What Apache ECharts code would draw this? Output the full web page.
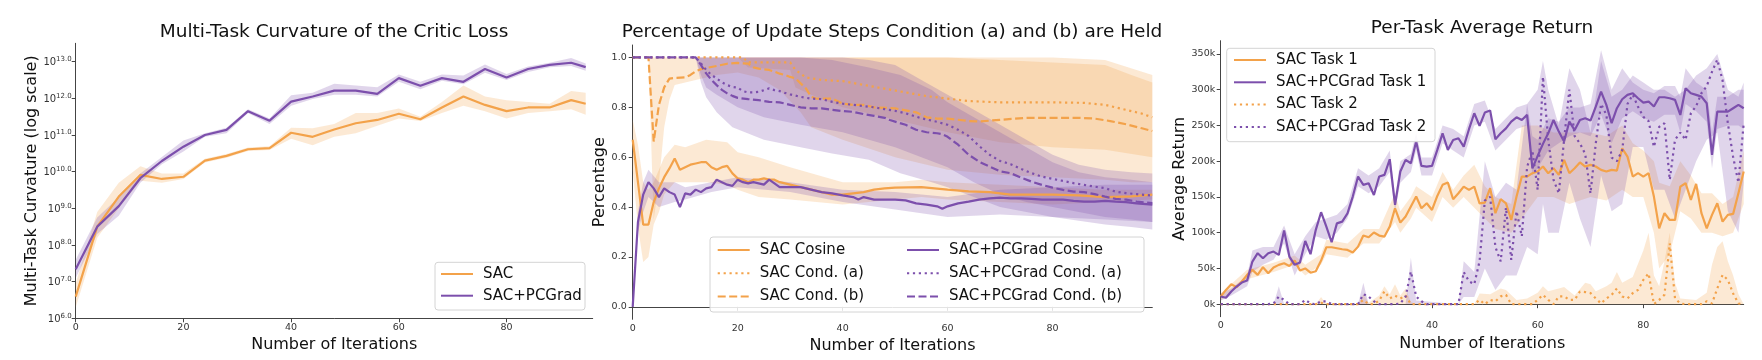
<!DOCTYPE html>
<html><head><meta charset="utf-8">
<script src="https://cdn.jsdelivr.net/npm/echarts@6/dist/echarts.min.js"></script>
<style>html,body{margin:0;padding:0;background:#fff}#c{width:1762px;height:360px}</style>
</head><body><div id="c"></div>
<script>
// ---------------- Chart 1: Multi-Task Curvature (values are log10 exponents)
const curvIters = [0,4,8,12,16,20,24,28,32,36,40,44,48,52,56,60,64,68,72,76,80,84,88,92,94.7];
const curvSAC   = [6.59,8.5,9.32,9.91,9.8,9.86,10.3,10.43,10.61,10.64,11.06,10.95,11.15,11.32,11.41,11.58,11.43,11.75,12.05,11.82,11.65,11.75,11.75,11.95,11.85];
const curvSACLo = [6.3,8.2,9.0,9.75,9.7,9.8,10.25,10.38,10.56,10.59,10.9,10.72,10.95,11.05,11.25,11.45,11.38,11.6,11.8,11.65,11.45,11.6,11.65,11.7,11.55];
const curvSACHi = [6.95,8.9,9.7,10.15,9.95,9.95,10.35,10.48,10.66,10.69,11.2,11.18,11.3,11.6,11.6,11.72,11.5,11.9,12.35,12.05,11.95,11.9,11.85,12.2,12.15];
const curvPC    = [7.34,8.5,9.06,9.82,10.29,10.68,11.0,11.14,11.65,11.39,11.91,12.05,12.21,12.21,12.12,12.55,12.34,12.55,12.45,12.8,12.57,12.8,12.91,12.97,12.85];
const curvPCLo  = [7.1,8.3,8.8,9.7,10.2,10.55,10.95,11.05,11.6,11.3,11.8,11.98,12.1,12.1,12.05,12.45,12.25,12.48,12.38,12.7,12.5,12.72,12.85,12.88,12.75];
const curvPCHi  = [7.6,8.75,9.3,9.95,10.4,10.85,11.05,11.2,11.7,11.45,12.08,12.15,12.4,12.35,12.3,12.65,12.45,12.65,12.62,12.92,12.66,12.87,12.97,13.1,12.95];
const curvTickExps = [6,7,8,9,10,11,12,13];
const iterTicks = [0,20,40,60,80];

// ---------------- Chart 2: Percentage of update steps
const sacCosX = [0,1,2,3,4,5,6,7,8,9,10,11,12,13,14,15,16,17,18,19,20,21,22,23,24,25,26,27,28,30,32,34,36,38,40,42,44,46,48,50,55,60,64,68,72,76,80,85,90,95,99];
const sacCosY = [0.67,0.5,0.33,0.33,0.42,0.475,0.52,0.555,0.595,0.55,0.56,0.57,0.575,0.58,0.58,0.56,0.55,0.56,0.565,0.535,0.515,0.51,0.5,0.51,0.51,0.515,0.51,0.51,0.5,0.49,0.48,0.47,0.46,0.45,0.45,0.455,0.46,0.47,0.475,0.478,0.48,0.47,0.463,0.46,0.45,0.45,0.45,0.447,0.44,0.443,0.45];
const sacCosBX = [0,1,2,3,4,5,6,8,10,14,18,20,24,30,40,50,55,60,70,80,90,99];
const sacCosLo = [0.55,0.32,0.18,0.2,0.33,0.38,0.45,0.5,0.5,0.5,0.49,0.47,0.44,0.43,0.41,0.43,0.44,0.43,0.42,0.41,0.42,0.43];
const sacCosHi = [0.75,0.65,0.5,0.47,0.5,0.55,0.6,0.65,0.64,0.67,0.66,0.62,0.6,0.56,0.5,0.5,0.51,0.5,0.49,0.48,0.47,0.47];

const pcCosX = [0,1,2,3,4,5,6,7,8,9,10,11,12,13,14,15,16,17,18,19,20,21,22,23,24,25,26,27,28,30,32,34,36,38,40,42,43,44,46,48,50,52,54,56,58,59,60,62,64,66,68,70,72,74,76,78,80,82,84,86,88,90,92,94,96,99];
const pcCosY = [0.0,0.34,0.45,0.5,0.475,0.44,0.475,0.46,0.45,0.4,0.455,0.45,0.47,0.46,0.475,0.48,0.51,0.5,0.49,0.485,0.51,0.5,0.495,0.5,0.495,0.49,0.51,0.495,0.48,0.48,0.48,0.47,0.46,0.455,0.447,0.44,0.43,0.44,0.43,0.43,0.43,0.427,0.415,0.41,0.403,0.393,0.403,0.415,0.422,0.43,0.435,0.438,0.435,0.435,0.433,0.43,0.43,0.43,0.425,0.422,0.422,0.425,0.422,0.42,0.415,0.41];
const pcCosBX = [0,1,2,3,5,8,10,15,20,30,40,50,60,70,80,90,99];
const pcCosLo = [0,0.3,0.38,0.44,0.4,0.42,0.43,0.46,0.48,0.46,0.42,0.39,0.36,0.37,0.36,0.35,0.34];
const pcCosHi = [0,0.38,0.5,0.55,0.5,0.5,0.48,0.5,0.52,0.5,0.47,0.46,0.44,0.47,0.48,0.49,0.49];

const sacAX = [0,21,22,30,31,33,36,40,44,48,52,56,60,64,70,80,86,90,94,97,99];
const sacAY = [1,1,0.98,0.98,0.95,0.92,0.91,0.905,0.89,0.875,0.86,0.845,0.835,0.825,0.82,0.82,0.818,0.81,0.79,0.775,0.76];
const sacABX = [0,20,22,30,31,34,40,50,60,70,80,90,99];
const sacALo = [1,1,0.96,0.95,0.88,0.85,0.8,0.75,0.7,0.66,0.64,0.63,0.6];
const sacAHi = [1,1,1,1,1,1,1,1,1,1,1,0.99,0.93];

const sacBX = [0,3,4,5,6,7,8,10,11,12,13,14,16,18,20,22,23,24,26,27,28,29,30,31,32,33,34,35,38,40,42,44,46,50,54,56,58,60,64,66,70,75,80,85,88,91,94,97,99];
const sacBY = [1,1,0.663,0.81,0.88,0.915,0.918,0.92,0.93,0.945,0.953,0.958,0.966,0.975,0.978,0.975,0.96,0.955,0.95,0.943,0.935,0.93,0.922,0.916,0.896,0.876,0.842,0.835,0.835,0.815,0.81,0.81,0.8,0.796,0.78,0.76,0.755,0.755,0.745,0.743,0.75,0.758,0.758,0.758,0.755,0.745,0.732,0.716,0.705];
const sacBBX = [0,3,4,5,6,7,8,10,12,14,16,20,24,28,32,34,40,50,60,70,80,90,95,99];
const sacBLo = [1,1,0.35,0.5,0.72,0.83,0.89,0.9,0.91,0.92,0.93,0.94,0.92,0.87,0.78,0.72,0.67,0.6,0.55,0.53,0.52,0.51,0.5,0.5];
const sacBHi = [1,1,1,1,1,1,1,1,1,1,1,1,1,1,1,1,1,1,1,0.99,0.98,0.97,0.93,0.9];

const pcAX = [0,12,13,14,15,16,17,18,19,20,21,22,23,24,25,26,27,28,29,30,32,34,36,38,40,42,44,46,48,50,52,55,58,60,62,64,66,68,70,72,74,76,78,80,82,84,86,88,90,92,94,96,99];
const pcAY = [1,1,0.976,0.95,0.93,0.916,0.9,0.889,0.882,0.879,0.865,0.86,0.86,0.862,0.869,0.876,0.869,0.865,0.858,0.852,0.842,0.835,0.833,0.822,0.815,0.81,0.805,0.8,0.793,0.786,0.776,0.756,0.742,0.73,0.71,0.685,0.645,0.61,0.585,0.572,0.553,0.536,0.522,0.513,0.505,0.496,0.489,0.482,0.476,0.462,0.456,0.452,0.446];
const pcABX = [0,12,13,14,16,20,25,32,40,45,50,55,60,65,70,75,80,85,90,95,99];
const pcALo = [1,1,0.93,0.88,0.85,0.8,0.76,0.73,0.7,0.67,0.64,0.6,0.56,0.5,0.45,0.42,0.4,0.38,0.36,0.35,0.34];
const pcAHi = [1,1,1,1,1,1,1,1,1,0.99,0.97,0.91,0.85,0.79,0.73,0.67,0.61,0.57,0.55,0.54,0.535];

const pcBX = [0,12,13,14,15,16,17,18,19,20,22,24,26,28,30,32,34,36,38,40,42,44,46,48,49,52,54,56,58,59,60,62,64,66,68,70,72,74,76,78,80,82,84,86,88,90,92,94,96,99];
const pcBY = [1,1,0.97,0.936,0.91,0.889,0.87,0.856,0.846,0.838,0.833,0.829,0.822,0.82,0.81,0.8,0.796,0.796,0.79,0.785,0.782,0.773,0.766,0.758,0.749,0.73,0.71,0.7,0.696,0.692,0.682,0.65,0.61,0.582,0.562,0.543,0.536,0.518,0.502,0.489,0.478,0.469,0.462,0.46,0.452,0.442,0.433,0.43,0.422,0.416];
const pcBBX = [0,12,13,14,16,19,25,32,38,45,51,57,60,65,70,75,80,85,90,95,99];
const pcBLo = [1,1,0.9,0.84,0.78,0.72,0.67,0.64,0.615,0.59,0.536,0.5,0.48,0.44,0.4,0.38,0.36,0.345,0.33,0.32,0.31];
const pcBHi = [1,1,1,1,1,1,1,1,0.99,0.96,0.93,0.87,0.82,0.76,0.7,0.64,0.58,0.54,0.52,0.51,0.5];
const pctTicks = [0,0.2,0.4,0.6,0.8,1.0];

// ---------------- Chart 3: Per-task average return (thousands), iterations 0..99
const retSAC1 = [10.7,20,28,23.7,31.7,41,48,41,51.7,43.3,51.2,55,57.3,53.5,61,47,50,44,46,61,79.6,79.6,78.2,76.8,75.9,72.2,80.5,96,93.6,100.2,96,94.6,108.5,134.1,114.1,122.5,136.5,150.5,134.1,141.1,131.8,151.4,166.9,170.1,146.8,155.2,164.5,159.9,164.5,141.1,142,162.2,127.2,146.8,141.1,117.8,150.5,178.5,178.5,183.2,185.5,192.5,183.2,190.2,180.8,201.8,183.2,190.2,198.2,192.5,194.8,192.5,187.8,185.5,187.8,186.9,218,206.4,178.5,183.2,178.5,183.2,150.5,106,127.2,117.8,117.8,164.5,169.2,145.9,168.3,127.2,106,124.9,141.1,115.5,124.9,126.3,155.2,185.5];
const retPC1 = [10.7,9,17.7,24.7,30.2,33,59.6,71.3,64.3,71.3,73.6,68.9,103,66.6,55,58.2,88.5,69.9,104,128.6,108.5,86.6,113,115.5,127,150.5,178.5,166.9,169.2,152.8,178.5,180.8,202.7,138.9,185.5,201.8,197.1,227.4,193.4,192.5,193.4,215.8,239,215.8,229.7,232.1,220.4,244.7,267,249.3,268,270.8,230.7,239,245.8,255.4,261.4,257.7,264.7,190,207.4,224.2,239,257.7,241.4,227.4,255.4,243.5,257.7,260.1,256.8,276.3,297.4,278.8,253.1,274.1,286.6,292.7,295,288,281.9,283.4,276.4,289.4,289.4,288,285.7,264.7,302,295,292.7,290.3,281,208.8,269.4,269.4,269.4,274.1,278.8,274.1];
const retSAC2 = [0,0,0,0,0,0,0,0,0,0,0,0,0,0,0,0,0,0,0,2,0,0,0,0,0,0,0,6,0,0,5,18,8,12,8,12,0,0,0,0,0,0,0,0,0,0,0,0,0,6,0,6,4,11,13,0,0,0,0,0,6,13,6,0,11,11,6,6,17.7,17,15.5,8,1,8,13,22,10.7,8,15.5,20,34,43,0,6,13,85,8,1,0,0,0,0,4,1,22,41,34,15,1,0];
const retPC2 = [0,0,0,0,0,0,0,0,0,0,1,10.7,6,0,0,0,6,1,0,4,4,0,0,0,0,0,0,14,10.7,4,0,0,0,0,1,10.7,45.6,10.7,4,0,0,0,0,0,0,0,45,32,28,60,145,150,80,60,135,62,130,95,192,215,160,318,230,174,155,230,300,235,225,210,155,225,280,265,205,200,215,280,293,276,262,256,220,248,253,174,230,240,230,267,277,295,305,325,342,313,253,206,170,253];

const bSAC1X = [0,5,10,14,16,19,20,24,27,30,33,34,36,37,40,42,44,46,48,50,52,55,57,60,63,66,70,73,76,78,80,82,83,85,87,89,91,93,95,97,99];
const bSAC1Lo = [5,35,45,55,40,55,70,65,85,85,115,100,120,135,115,150,135,150,135,120,105,100,120,150,150,140,150,145,160,150,150,100,50,70,130,120,100,100,95,100,140];
const bSAC1Hi = [15,48,58,68,55,70,90,85,105,105,155,130,150,165,150,185,160,180,195,165,150,140,250,250,240,240,240,235,250,225,215,200,170,165,200,180,155,155,140,150,215];

const bPC1X = [0,2,5,6,8,10,12,14,16,18,20,22,24,26,28,30,32,33,34,36,37,38,40,42,44,46,48,50,52,54,56,58,59,60,62,64,66,68,70,72,74,76,78,80,82,84,86,87,88,90,92,93,94,96,98,99];
const bPC1Lo = [5,12,25,45,55,62,85,40,70,95,90,100,120,165,155,165,185,130,170,185,215,180,180,225,215,205,250,255,215,230,245,250,180,190,215,225,235,240,235,265,225,260,270,260,255,265,265,240,280,270,255,190,245,250,250,245];
const bPC1Hi = [15,22,40,75,80,80,110,70,95,115,120,125,140,190,180,190,215,150,200,210,240,205,205,250,245,235,280,285,245,260,275,280,235,230,260,255,275,275,280,355,300,330,310,300,295,305,305,290,330,310,300,240,290,290,300,300];

const bSAC2X = [0,18,19,20,26,27,28,30,31,32,33,34,35,36,37,48,49,51,53,54,56,58,60,61,62,64,65,67,69,70,71,73,74,75,76,78,80,81,82,83,84,85,86,87,90,92,93,94,95,96,97,98,99];
const bSAC2Lo = [0,0,0,0,0,0,0,0,0,0,0,0,0,0,0,0,0,0,0,0,0,0,0,0,0,0,0,0,0,0,0,0,0,0,0,0,0,0,0,0,0,0,0,0,0,0,0,0,0,0,0,0,0];
const bSAC2Hi = [0,0,10,0,0,14,2,12,25,14,28,12,22,3,0,0,15,14,22,20,6,8,16,25,18,22,24,12,30,28,18,25,30,45,30,38,75,100,40,25,60,100,30,8,6,16,55,80,88,60,40,14,0];

const bPC2X = [0,10,11,12,26,27,28,35,36,37,45,46,48,50,52,54,56,58,60,61,62,64,66,68,70,72,74,76,78,80,82,84,86,88,90,92,94,96,98,99];
const bPC2Lo = [0,0,0,0,0,0,0,0,0,0,0,10,10,50,20,40,40,80,70,140,100,100,170,120,80,180,130,140,220,220,160,160,120,160,200,230,240,130,100,170];
const bPC2Hi = [0,0,25,0,0,30,0,0,65,5,0,60,45,200,150,170,160,280,300,340,300,250,330,300,240,340,290,300,320,310,300,300,290,300,320,330,350,300,290,310];
const retTicks = [0,50,100,150,200,250,300,350];

// ---------------- build
const FONT = 'DejaVu Sans';
const ORANGE = '#f3a24a', PURPLE = '#7c4fac';
const OFILL = 'rgba(243,162,74,0.24)', PFILL = 'rgba(124,79,172,0.24)';
const DOT = [2.2, 3.7], DASH = [8, 3.5];
const pow10 = e => Math.pow(10, e);
const ident = v => v;
const iters3 = retSAC1.map((_, k) => k);

function band(name, xs, lo, hi, fill, ai, conv) {
  conv = conv || ident;
  return {
    type: 'custom', name, xAxisIndex: ai, yAxisIndex: ai, silent: true, z: 1, animation: false,
    data: xs.map((x, k) => [x, conv(lo[k]), conv(hi[k])]),
    encode: { x: 0, y: [1, 2] },
    renderItem: function (params, api) {
      if (params.dataIndex !== 0) return null;
      const pts = [];
      for (let k = 0; k < xs.length; k++) pts.push(api.coord([xs[k], conv(hi[k])]));
      for (let k = xs.length - 1; k >= 0; k--) pts.push(api.coord([xs[k], conv(lo[k])]));
      return { type: 'polygon', shape: { points: pts }, style: { fill: fill, stroke: null } };
    }
  };
}
function line(name, xs, ys, color, dash, ai, conv) {
  conv = conv || ident;
  return {
    type: 'line', name, xAxisIndex: ai, yAxisIndex: ai, z: 3, silent: true, animation: false,
    data: xs.map((x, k) => [x, conv(ys[k])]),
    symbol: 'none', showSymbol: false,
    lineStyle: { color: color, width: 2.2, type: dash || 'solid', cap: 'butt' },
    itemStyle: { color: color }
  };
}
const axisLineStyle = { color: '#444', width: 1 };
const nameStyle = { fontSize: 16, fontFamily: FONT, color: '#111' };
function xAxis(gi, max) {
  return {
    type: 'value', gridIndex: gi, min: 0, max: max,
    axisLine: { show: true, lineStyle: axisLineStyle },
    axisTick: { show: true, length: 4, lineStyle: axisLineStyle, customValues: iterTicks },
    axisLabel: { fontSize: 9.5, fontFamily: FONT, color: '#333', margin: 4, customValues: iterTicks,
      formatter: v => (iterTicks.indexOf(v) >= 0 ? String(v) : '') },
    splitLine: { show: false },
    name: 'Number of Iterations', nameLocation: 'middle', nameGap: 13,
    nameTextStyle: nameStyle
  };
}
const legText = { fontSize: 15, fontFamily: FONT, color: '#111', padding: [0, 0, 0, 5], lineHeight: 15 };
function legend(names, left, top, gap) {
  return { data: names, orient: 'vertical', left: left, top: top, padding: 0, itemWidth: 32, itemHeight: 15,
    itemGap: gap, textStyle: legText, selectedMode: false, z: 10,
    itemStyle: { opacity: 0, borderWidth: 0 } };
}
function frame(x, y, w, h) {
  return { type: 'rect', z: 8, silent: true, shape: { x: x, y: y, width: w, height: h, r: 3 },
    style: { fill: 'rgba(255,255,255,0.85)', stroke: '#d4d4d4', lineWidth: 1 } };
}
function title(text, cx, top) {
  return { text: text, left: cx, top: top, textAlign: 'center', padding: 0,
    textStyle: { fontSize: 18.5, fontWeight: 'normal', fontFamily: FONT, color: '#111' } };
}

const option = {
  animation: false,
  backgroundColor: '#fff',
  title: [
    title('Multi-Task Curvature of the Critic Loss', 334, 23),
    title('Percentage of Update Steps Condition (a) and (b) are Held', 892, 23),
    title('Per-Task Average Return', 1482, 19)
  ],
  grid: [
    { left: 75.7, top: 43.3, width: 517, height: 275 },
    { left: 632.7, top: 45, width: 519.6, height: 274.3 },
    { left: 1220.7, top: 40.7, width: 523, height: 276 }
  ],
  xAxis: [xAxis(0, 96), xAxis(1, 99), xAxis(2, 99)],
  yAxis: [
    { type: 'log', logBase: 10, gridIndex: 0, min: pow10(6), max: pow10(13.5),
      axisLine: { show: true, lineStyle: axisLineStyle },
      axisTick: { show: true, length: 4, lineStyle: axisLineStyle, customValues: curvTickExps.map(pow10) },
      axisLabel: { margin: 4, customValues: curvTickExps.map(pow10),
        formatter: function (v) {
          const e = Math.log10(v), r = Math.round(e);
          if (Math.abs(e - r) > 1e-6 || curvTickExps.indexOf(r) < 0) return '';
          return '{b|10}{s|' + r.toFixed(1) + '}';
        },
        rich: {
          b: { fontSize: 10, fontFamily: FONT, color: '#333', lineHeight: 12, verticalAlign: 'bottom' },
          s: { fontSize: 7, fontFamily: FONT, color: '#333', lineHeight: 8, verticalAlign: 'top' }
        } },
      splitLine: { show: false },
      name: 'Multi-Task Curvature (log scale)', nameLocation: 'middle', nameGap: 36, nameRotate: 90, nameTextStyle: nameStyle },
    { type: 'value', gridIndex: 1, min: -0.05, max: 1.05,
      axisLine: { show: true, lineStyle: axisLineStyle },
      axisTick: { show: true, length: 4, lineStyle: axisLineStyle, customValues: pctTicks },
      axisLabel: { fontSize: 9.5, fontFamily: FONT, color: '#333', margin: 6, customValues: pctTicks,
        formatter: v => (pctTicks.some(t => Math.abs(t - v) < 1e-9) ? v.toFixed(1) : '') },
      splitLine: { show: false },
      name: 'Percentage', nameLocation: 'middle', nameGap: 23, nameRotate: 90, nameTextStyle: nameStyle },
    { type: 'value', gridIndex: 2, min: -17.5, max: 368.5,
      axisLine: { show: true, lineStyle: axisLineStyle },
      axisTick: { show: true, length: 4, lineStyle: axisLineStyle, customValues: retTicks },
      axisLabel: { fontSize: 9.5, fontFamily: FONT, color: '#333', margin: 5.5, customValues: retTicks,
        formatter: v => (retTicks.indexOf(v) >= 0 ? v + 'k' : '') },
      splitLine: { show: false },
      name: 'Average Return', nameLocation: 'middle', nameGap: 32.5, nameRotate: 90, nameTextStyle: nameStyle }
  ],
  legend: [
    legend(['SAC', 'SAC+PCGrad'], 440, 266.5, 6.7),
    legend(['SAC Cosine', 'SAC Cond. (a)', 'SAC Cond. (b)'], 716.7, 242.5, 8.3),
    legend(['SAC+PCGrad Cosine', 'SAC+PCGrad Cond. (a)', 'SAC+PCGrad Cond. (b)'], 906, 242.5, 8.3),
    legend(['SAC Task 1', 'SAC+PCGrad Task 1', 'SAC Task 2', 'SAC+PCGrad Task 2'], 1233, 52.5, 7.3)
  ],
  graphic: [
    frame(435, 262.3, 150, 47.7),
    frame(710, 237, 434, 75),
    frame(1226.7, 48.3, 208.3, 93.4)
  ],
  series: [
    // chart 1
    band('b-sac', curvIters, curvSACLo, curvSACHi, OFILL, 0, pow10),
    band('b-pc', curvIters, curvPCLo, curvPCHi, PFILL, 0, pow10),
    line('SAC', curvIters, curvSAC, ORANGE, 'solid', 0, pow10),
    line('SAC+PCGrad', curvIters, curvPC, PURPLE, 'solid', 0, pow10),
    // chart 2
    band('b-sc', sacCosBX, sacCosLo, sacCosHi, OFILL, 1),
    band('b-sa', sacABX, sacALo, sacAHi, OFILL, 1),
    band('b-sb', sacBBX, sacBLo, sacBHi, OFILL, 1),
    band('b-pcc', pcCosBX, pcCosLo, pcCosHi, PFILL, 1),
    band('b-pa', pcABX, pcALo, pcAHi, PFILL, 1),
    band('b-pb', pcBBX, pcBLo, pcBHi, PFILL, 1),
    line('SAC Cosine', sacCosX, sacCosY, ORANGE, 'solid', 1),
    line('SAC Cond. (a)', sacAX, sacAY, ORANGE, DOT, 1),
    line('SAC Cond. (b)', sacBX, sacBY, ORANGE, DASH, 1),
    line('SAC+PCGrad Cosine', pcCosX, pcCosY, PURPLE, 'solid', 1),
    line('SAC+PCGrad Cond. (a)', pcAX, pcAY, PURPLE, DOT, 1),
    line('SAC+PCGrad Cond. (b)', pcBX, pcBY, PURPLE, DASH, 1),
    // chart 3
    band('b-s1', bSAC1X, bSAC1Lo, bSAC1Hi, OFILL, 2),
    band('b-p1', bPC1X, bPC1Lo, bPC1Hi, PFILL, 2),
    band('b-s2', bSAC2X, bSAC2Lo, bSAC2Hi, OFILL, 2),
    band('b-p2', bPC2X, bPC2Lo, bPC2Hi, PFILL, 2),
    line('SAC Task 1', iters3, retSAC1, ORANGE, 'solid', 2),
    line('SAC+PCGrad Task 1', iters3, retPC1, PURPLE, 'solid', 2),
    line('SAC Task 2', iters3, retSAC2, ORANGE, DOT, 2),
    line('SAC+PCGrad Task 2', iters3, retPC2, PURPLE, DOT, 2)
  ]
};
const chart = echarts.init(document.getElementById('c'), null, { renderer: 'canvas' });
chart.setOption(option);
</script></body></html>
